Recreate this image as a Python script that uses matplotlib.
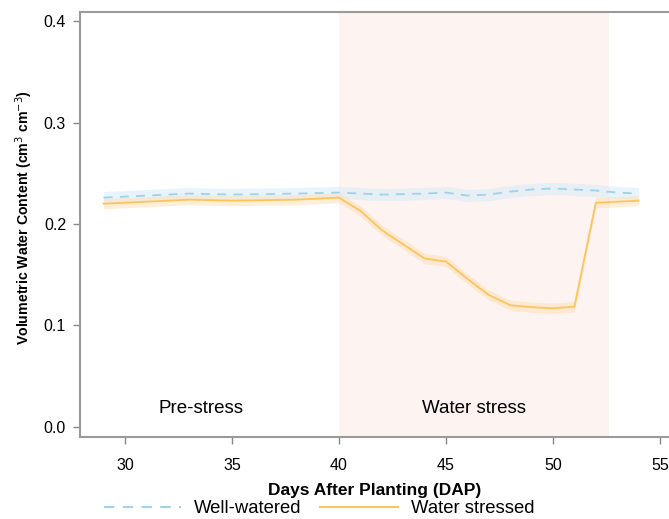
import matplotlib.pyplot as plt
from matplotlib.lines import Line2D

plt.rcParams['font.family'] = ['Liberation Sans', 'DejaVu Sans']

# days after planting
days = [29, 33, 35, 38, 40, 41, 42, 44, 45, 46, 47, 48, 49, 50, 51, 52, 53, 54]
# well-watered mean and band half-width
ww = [0.226, 0.230, 0.229, 0.230, 0.231, 0.230, 0.229, 0.230, 0.231, 0.228, 0.229, 0.232, 0.234, 0.235, 0.234, 0.233, 0.231, 0.230]
ww_err = 0.006
# water stressed mean and band half-width
ws = [0.220, 0.224, 0.223, 0.224, 0.226, 0.213, 0.194, 0.166, 0.163, 0.146, 0.130, 0.120, 0.118, 0.117, 0.1185, 0.221, 0.222, 0.223]
ws_err = 0.005

stress_start, stress_end = 40, 52.6

blue = '#9fd3ea'
orange = '#fdc45c'

fig = plt.figure(figsize=(6.69, 5.19), dpi=100)
ax = fig.add_axes([0.1196, 0.158, 0.8804, 0.819])

ax.axvspan(stress_start, stress_end, color='#fdf3f0', zorder=0, lw=0)

ax.fill_between(days, [v - ww_err for v in ww], [v + ww_err for v in ww],
                color='#d3eaf8', alpha=0.5, lw=0, zorder=1)
ax.fill_between(days, [v - ws_err for v in ws], [v + ws_err for v in ws],
                color='#fde0b8', alpha=0.55, lw=0, zorder=1)
ax.plot(days, ww, color=blue, ls=(0, (5, 4)), lw=1.3, zorder=3)
ax.plot(days, ws, color=orange, lw=1.3, zorder=3)

ax.text(33.55, 0.0177, 'Pre-stress', ha='center', va='center', fontsize=13.5)
ax.text(46.3, 0.0177, 'Water stress', ha='center', va='center', fontsize=13.5)

ax.set_xlim(27.9, 55.42)
ax.set_ylim(-0.0099, 0.409)
ax.set_xticks([30, 35, 40, 45, 50, 55])
ax.set_yticks([0.0, 0.1, 0.2, 0.3, 0.4])
ax.set_yticklabels(['0.0', '0.1', '0.2', '0.3', '0.4'])
ax.tick_params(labelsize=11.5, color='#888888', length=5, width=1)
ax.tick_params(axis='x', pad=10)
ax.tick_params(axis='y', pad=5)

for side in ['left', 'bottom', 'top']:
    ax.spines[side].set_color('#9a9a9a')
    ax.spines[side].set_linewidth(1.5)
ax.spines['right'].set_visible(False)

ax.set_xlabel('Days After Planting (DAP)', fontsize=12.5, fontweight='bold', labelpad=7)
ax.set_ylabel('Volumetric Water Content (cm$^3$ cm$^{-3}$)', fontsize=10.2, fontweight='bold')
ax.yaxis.set_label_coords(-0.076, 0.515)

handles = [Line2D([], [], color=blue, ls=(0, (5, 4)), lw=1.5),
           Line2D([], [], color=orange, lw=1.5)]
fig.legend(handles, ['Well-watered', 'Water stressed'], loc='lower center',
           bbox_to_anchor=(0.477, -0.022), ncol=2, frameon=False, fontsize=13.3,
           handlelength=4.2, columnspacing=1.0, handletextpad=0.7,
           borderpad=0.2)

fig.savefig('out.png', dpi=100)
